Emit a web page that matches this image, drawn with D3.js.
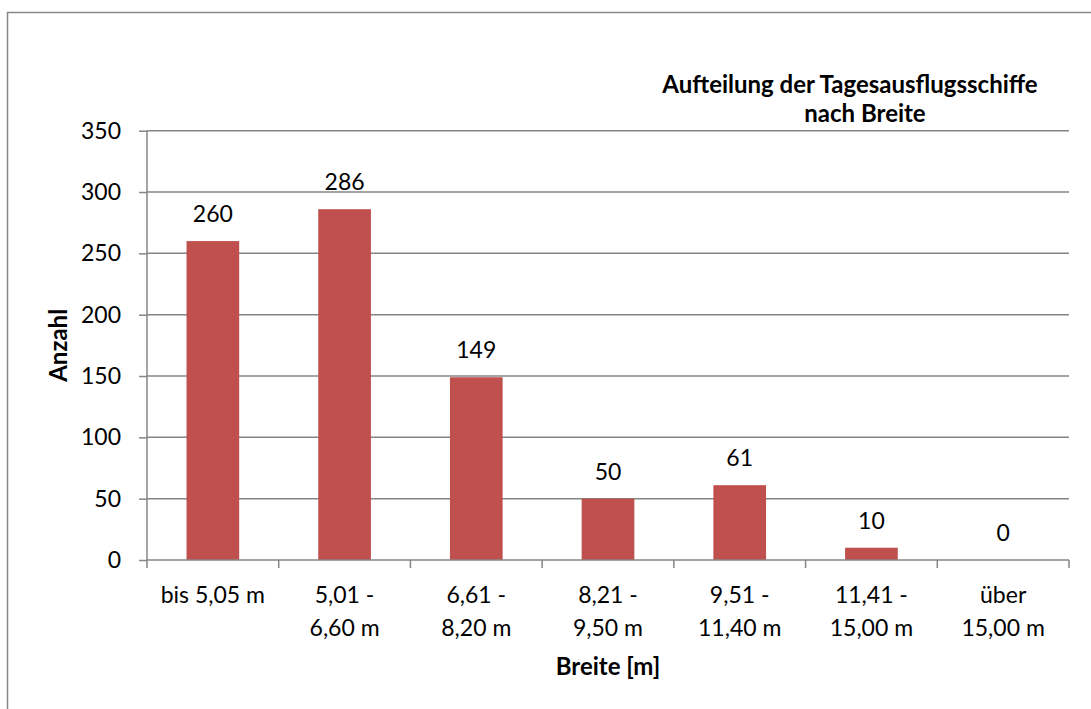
<!DOCTYPE html>
<html><head><meta charset="utf-8">
<script src="https://cdn.jsdelivr.net/npm/d3@7"></script>
<style>
html,body{margin:0;padding:0;background:#fff;}
svg{display:block;}
text{font-family:Lato,"Open Sans",sans-serif;fill:#000;}
</style></head>
<body>
<script>
const categories = [["bis 5,05 m"],["5,01 -","6,60 m"],["6,61 -","8,20 m"],["8,21 -","9,50 m"],["9,51 -","11,40 m"],["11,41 -","15,00 m"],["über","15,00 m"]];
const values = [260, 286, 149, 50, 61, 10, 0];
const yTicks = [0, 50, 100, 150, 200, 250, 300, 350];
const titleLines = ["Aufteilung der Tagesausflugsschiffe", "nach Breite"];
const xTitle = "Breite [m]";
const yTitle = "Anzahl";

const W = 1091, H = 709;
const m = {left:147, right:1069, top:130.7, bottom:560};
const svg = d3.select("body").append("svg").attr("width", W).attr("height", H);

svg.append("rect").attr("x",7.5).attr("y",12.5).attr("width",1100).attr("height",800)
  .attr("fill","#fff").attr("stroke","#888").attr("stroke-width",1.5);

const idx = categories.map((d,i)=>i);
const x = d3.scaleBand().domain(idx).range([m.left, m.right]).paddingInner(0.6).paddingOuter(0.3);
const xb = d3.scaleBand().domain(idx).range([m.left, m.right]);
const y = d3.scaleLinear().domain([0,350]).range([m.bottom, m.top]);

svg.append("g").selectAll("line").data(yTicks.filter(t=>t>0)).join("line")
  .attr("x1", m.left).attr("x2", m.right).attr("y1", d=>y(d)).attr("y2", d=>y(d))
  .attr("stroke","#868686").attr("stroke-width",1.5);

svg.append("g").selectAll("rect").data(values).join("rect")
  .attr("x",(d,i)=>x(i)).attr("width",x.bandwidth())
  .attr("y",d=>y(d)).attr("height",d=>y(0)-y(d))
  .attr("fill","#C0504D");

const yAxis = d3.axisLeft(y).tickValues(yTicks).tickSize(8).tickPadding(18).tickFormat(d3.format("d"));
const gy = svg.append("g").attr("transform",`translate(${m.left},0)`).call(yAxis);
gy.select(".domain").attr("stroke","#868686").attr("stroke-width",1.5).attr("d",`M-0,${m.top}V${m.bottom}`);
gy.selectAll(".tick line").attr("stroke","#868686").attr("stroke-width",1.5);
gy.selectAll(".tick text").attr("font-size",23).attr("font-family","Lato,sans-serif").attr("fill","#000");

const gx = svg.append("g");
gx.append("line").attr("x1",m.left).attr("x2",m.right).attr("y1",y(0)).attr("y2",y(0))
  .attr("stroke","#868686").attr("stroke-width",1.5);
const bounds = idx.map(i=>xb(i)).concat([m.right]);
gx.selectAll("line.tk").data(bounds).join("line").attr("class","tk")
  .attr("x1",d=>d).attr("x2",d=>d).attr("y1",y(0)).attr("y2",y(0)+8)
  .attr("stroke","#868686").attr("stroke-width",1.5);
const lbl = gx.selectAll("text.cat").data(categories).join("text").attr("class","cat")
  .attr("text-anchor","middle").attr("font-size",23);
lbl.each(function(lines,i){
  const t = d3.select(this);
  lines.forEach((s,k)=>{
    t.append("tspan").attr("x", xb(i)+xb.bandwidth()/2).attr("y", 603 + k*33).text(s);
  });
});

svg.append("g").selectAll("text").data(values).join("text")
  .attr("x",(d,i)=>x(i)+x.bandwidth()/2).attr("y",d=>y(d)-19)
  .attr("text-anchor","middle").attr("font-size",23).text(d=>d);

const tx = [850, 865];
const tt = svg.append("text").attr("text-anchor","middle").attr("font-size",24).attr("font-weight","bold");
titleLines.forEach((s,k)=>tt.append("tspan").attr("x",tx[k]).attr("y",93+k*29).text(s));
svg.append("text").attr("x",(m.left+m.right)/2).attr("y",675).attr("text-anchor","middle")
  .attr("font-size",24).attr("font-weight","bold").text(xTitle);
svg.append("text").attr("transform",`translate(67,${(m.top+m.bottom)/2}) rotate(-90)`)
  .attr("text-anchor","middle").attr("font-size",24).attr("font-weight","bold").text(yTitle);
</script>
</body></html>
